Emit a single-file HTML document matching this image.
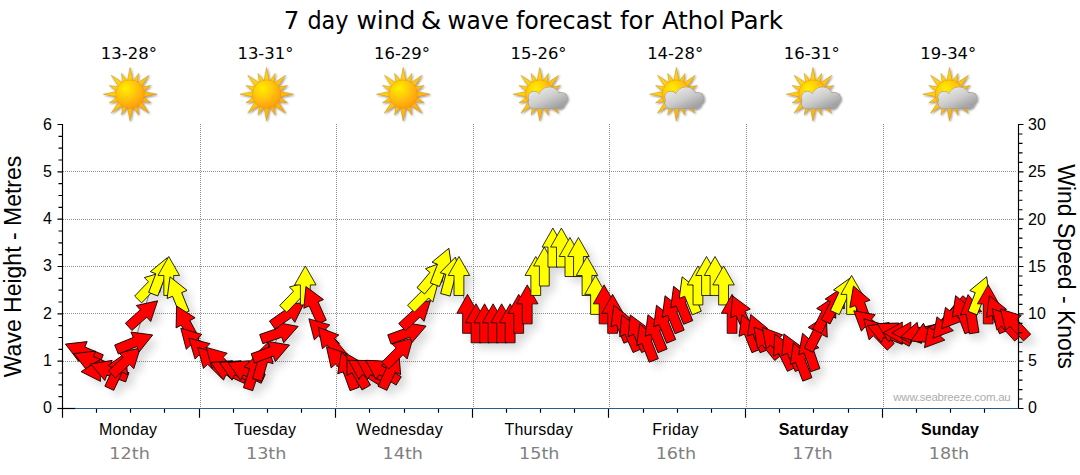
<!DOCTYPE html>
<html lang="en"><head><meta charset="utf-8"><title>7 day wind &amp; wave forecast for Athol Park</title>
<style>html,body{margin:0;padding:0;background:#fff}body{width:1080px;height:475px;overflow:hidden}svg{display:block}
text{font-family:"Liberation Sans",sans-serif;fill:#000}
.v{font-family:"DejaVu Sans Condensed","DejaVu Sans",sans-serif}
.w{font-family:"DejaVu Sans",sans-serif}
</style></head><body>
<svg width="1080" height="475" viewBox="0 0 1080 475">
<defs>
<radialGradient id="sg" cx="0.36" cy="0.3" r="0.75"><stop offset="0" stop-color="#fff000"/><stop offset="0.4" stop-color="#ffcc08"/><stop offset="1" stop-color="#ff9810"/></radialGradient>
<linearGradient id="rg" x1="0" y1="0" x2="1" y2="1"><stop offset="0" stop-color="#ffe418"/><stop offset="1" stop-color="#ffa010"/></linearGradient>
<linearGradient id="cg" gradientUnits="userSpaceOnUse" x1="2" y1="-7" x2="12" y2="15"><stop offset="0" stop-color="#e6e6e6"/><stop offset="0.5" stop-color="#cdcdcd"/><stop offset="1" stop-color="#a2a2a2"/></linearGradient>
<filter id="sh" x="-50%" y="-50%" width="220%" height="220%"><feGaussianBlur in="SourceAlpha" stdDeviation="4.5"/><feOffset dx="6" dy="6"/><feComponentTransfer><feFuncA type="linear" slope="0.15"/></feComponentTransfer></filter>
<filter id="ish" x="-30%" y="-30%" width="160%" height="160%"><feGaussianBlur in="SourceAlpha" stdDeviation="0.9"/><feOffset dx="0.8" dy="1.2" result="b"/><feComponentTransfer><feFuncA type="linear" slope="0.45"/></feComponentTransfer><feMerge><feMergeNode/><feMergeNode in="SourceGraphic"/></feMerge></filter>
<g id="sun"><path d="M-2.7 -13.5L0 -26.7L2.7 -13.5ZM3.04 -13.35L8.61 -20.79L7.29 -11.59ZM7.64 -11.46L18.88 -18.88L11.46 -7.64ZM11.59 -7.29L20.79 -8.61L13.35 -3.04ZM13.5 -2.7L26.7 -0L13.5 2.7ZM13.35 3.04L20.79 8.61L11.59 7.29ZM11.46 7.64L18.88 18.88L7.64 11.46ZM7.29 11.59L8.61 20.79L3.04 13.35ZM2.7 13.5L0 26.7L-2.7 13.5ZM-3.04 13.35L-8.61 20.79L-7.29 11.59ZM-7.64 11.46L-18.88 18.88L-11.46 7.64ZM-11.59 7.29L-20.79 8.61L-13.35 3.04ZM-13.5 2.7L-26.7 0L-13.5 -2.7ZM-13.35 -3.04L-20.79 -8.61L-11.59 -7.29ZM-11.46 -7.64L-18.88 -18.88L-7.64 -11.46ZM-7.29 -11.59L-8.61 -20.79L-3.04 -13.35Z" fill="url(#rg)" stroke="#c88800" stroke-width="0.45"/><circle r="14.3" fill="url(#sg)" stroke="#e89000" stroke-width="0.4"/></g>
<g id="cloud"><path d="M-11.3 3a5.8 5.8 0 1 1 11.6 0a5.8 5.8 0 1 1 -11.6 0ZM-1.0999999999999996 3.6a10.6 10.6 0 1 1 21.2 0a10.6 10.6 0 1 1 -21.2 0ZM15.5 4.5a6 6 0 1 1 12 0a6 6 0 1 1 -12 0ZM13.8 8.9a5.5 5.5 0 1 1 11.0 0a5.5 5.5 0 1 1 -11.0 0ZM-11.3 8.6a5.8 5.8 0 1 1 11.6 0a5.8 5.8 0 1 1 -11.6 0ZM-5.5 3H19.5V14.4H-5.5Z" fill="#9c9c9c" stroke="#9a9a9a" stroke-width="1"/><path d="M-11.3 3a5.8 5.8 0 1 1 11.6 0a5.8 5.8 0 1 1 -11.6 0ZM-1.0999999999999996 3.6a10.6 10.6 0 1 1 21.2 0a10.6 10.6 0 1 1 -21.2 0ZM15.5 4.5a6 6 0 1 1 12 0a6 6 0 1 1 -12 0ZM13.8 8.9a5.5 5.5 0 1 1 11.0 0a5.5 5.5 0 1 1 -11.0 0ZM-11.3 8.6a5.8 5.8 0 1 1 11.6 0a5.8 5.8 0 1 1 -11.6 0ZM-5.5 3H19.5V14.4H-5.5Z" fill="url(#cg)"/></g>
<path id="ar" d="M0 -19.5L10.75 -0.5L4.9 -0.5L4.9 19.5L-4.9 19.5L-4.9 -0.5L-10.75 -0.5Z"/>
</defs>
<path d="M63 361.17H1017M63 313.83H1017M63 266.5H1017M63 219.17H1017M63 171.83H1017M200.5 124V407.5M336.5 124V407.5M473.5 124V407.5M609.5 124V407.5M746.5 124V407.5M883.5 124V407.5" stroke="#8e8e8e" stroke-width="1" stroke-dasharray="1 1" fill="none" shape-rendering="crispEdges"/>
<polyline points="83.39,351.7 91.92,361.17 100.46,370.63 109,370.63 117.53,370.63 126.07,361.17 134.6,342.23 143.14,313.83 151.68,285.43 160.21,275.97 168.75,275.97 177.28,294.9 185.82,323.3 194.35,342.23 202.89,351.7 211.43,361.17 219.96,361.17 228.5,370.63 237.03,370.63 245.57,370.63 254.1,370.63 262.64,361.17 271.18,351.7 279.71,332.77 288.25,313.83 296.78,294.9 305.32,285.43 313.85,304.37 322.39,332.77 330.93,342.23 339.46,361.17 348,370.63 356.53,370.63 365.07,370.63 373.6,370.63 382.14,370.63 390.68,370.63 399.21,351.7 407.75,332.77 416.28,313.83 424.82,294.9 433.35,275.97 441.89,266.5 450.43,275.97 458.96,275.97 467.5,313.83 476.03,323.3 484.57,323.3 493.1,323.3 501.64,323.3 510.18,323.3 518.71,313.83 527.25,304.37 535.78,275.97 544.32,266.5 552.85,247.57 561.39,247.57 569.93,257.03 578.46,257.03 587,275.97 595.53,294.9 604.07,304.37 612.6,313.83 621.14,323.3 629.67,332.77 638.21,332.77 646.75,342.23 655.28,332.77 663.82,323.3 672.35,313.83 680.89,304.37 689.42,294.9 697.96,285.43 706.5,275.97 715.03,275.97 723.57,285.43 732.1,313.83 740.64,313.83 749.18,332.77 757.71,332.77 766.25,342.23 774.78,342.23 783.32,351.7 791.85,351.7 800.39,361.17 808.93,351.7 817.46,332.77 826,313.83 834.53,304.37 843.07,294.9 851.6,294.9 860.14,304.37 868.68,323.3 877.21,332.77 885.75,332.77 894.28,332.77 902.82,332.77 911.35,332.77 919.89,332.77 928.43,332.77 936.96,332.77 945.5,323.3 954.03,313.83 962.57,313.83 971.1,313.83 979.64,294.9 988.18,304.37 996.71,313.83 1005.25,323.3 1013.78,323.3" fill="none" stroke="#8c8c8c" stroke-width="1"/>
<g filter="url(#sh)"><use href="#ar" transform="translate(83.39 351.7) rotate(-67)" fill="#f00"/><use href="#ar" transform="translate(91.92 361.17) rotate(-67)" fill="#f00"/><use href="#ar" transform="translate(100.46 370.63) rotate(-93)" fill="#f00"/><use href="#ar" transform="translate(109 370.63) rotate(-70)" fill="#f00"/><use href="#ar" transform="translate(117.53 370.63) rotate(25)" fill="#f00"/><use href="#ar" transform="translate(126.07 361.17) rotate(47)" fill="#f00"/><use href="#ar" transform="translate(134.6 342.23) rotate(68)" fill="#f00"/><use href="#ar" transform="translate(143.14 313.83) rotate(48)" fill="#f00"/><use href="#ar" transform="translate(151.68 285.43) rotate(44)" fill="#ff0"/><use href="#ar" transform="translate(160.21 275.97) rotate(21)" fill="#ff0"/><use href="#ar" transform="translate(168.75 275.97) rotate(0)" fill="#ff0"/><use href="#ar" transform="translate(177.28 294.9) rotate(-22)" fill="#ff0"/><use href="#ar" transform="translate(185.82 323.3) rotate(-28)" fill="#f00"/><use href="#ar" transform="translate(194.35 342.23) rotate(-44)" fill="#f00"/><use href="#ar" transform="translate(202.89 351.7) rotate(-46)" fill="#f00"/><use href="#ar" transform="translate(211.43 361.17) rotate(-45)" fill="#f00"/><use href="#ar" transform="translate(219.96 361.17) rotate(-45)" fill="#f00"/><use href="#ar" transform="translate(228.5 370.63) rotate(-65)" fill="#f00"/><use href="#ar" transform="translate(237.03 370.63) rotate(-65)" fill="#f00"/><use href="#ar" transform="translate(245.57 370.63) rotate(-65)" fill="#f00"/><use href="#ar" transform="translate(254.1 370.63) rotate(18)" fill="#f00"/><use href="#ar" transform="translate(262.64 361.17) rotate(16)" fill="#f00"/><use href="#ar" transform="translate(271.18 351.7) rotate(70)" fill="#f00"/><use href="#ar" transform="translate(279.71 332.77) rotate(71)" fill="#f00"/><use href="#ar" transform="translate(288.25 313.83) rotate(55)" fill="#f00"/><use href="#ar" transform="translate(296.78 294.9) rotate(44)" fill="#ff0"/><use href="#ar" transform="translate(305.32 285.43) rotate(0)" fill="#ff0"/><use href="#ar" transform="translate(313.85 304.37) rotate(-24)" fill="#f00"/><use href="#ar" transform="translate(322.39 332.77) rotate(-44)" fill="#f00"/><use href="#ar" transform="translate(330.93 342.23) rotate(-40)" fill="#f00"/><use href="#ar" transform="translate(339.46 361.17) rotate(-42)" fill="#f00"/><use href="#ar" transform="translate(348 370.63) rotate(-20)" fill="#f00"/><use href="#ar" transform="translate(356.53 370.63) rotate(-30)" fill="#f00"/><use href="#ar" transform="translate(365.07 370.63) rotate(-58)" fill="#f00"/><use href="#ar" transform="translate(373.6 370.63) rotate(-58)" fill="#f00"/><use href="#ar" transform="translate(382.14 370.63) rotate(-58)" fill="#f00"/><use href="#ar" transform="translate(390.68 370.63) rotate(25)" fill="#f00"/><use href="#ar" transform="translate(399.21 351.7) rotate(45)" fill="#f00"/><use href="#ar" transform="translate(407.75 332.77) rotate(70)" fill="#f00"/><use href="#ar" transform="translate(416.28 313.83) rotate(47)" fill="#f00"/><use href="#ar" transform="translate(424.82 294.9) rotate(45)" fill="#ff0"/><use href="#ar" transform="translate(433.35 275.97) rotate(40)" fill="#ff0"/><use href="#ar" transform="translate(441.89 266.5) rotate(21)" fill="#ff0"/><use href="#ar" transform="translate(450.43 275.97) rotate(15)" fill="#ff0"/><use href="#ar" transform="translate(458.96 275.97) rotate(0)" fill="#ff0"/><use href="#ar" transform="translate(467.5 313.83) rotate(0)" fill="#f00"/><use href="#ar" transform="translate(476.03 323.3) rotate(0)" fill="#f00"/><use href="#ar" transform="translate(484.57 323.3) rotate(0)" fill="#f00"/><use href="#ar" transform="translate(493.1 323.3) rotate(0)" fill="#f00"/><use href="#ar" transform="translate(501.64 323.3) rotate(0)" fill="#f00"/><use href="#ar" transform="translate(510.18 323.3) rotate(0)" fill="#f00"/><use href="#ar" transform="translate(518.71 313.83) rotate(0)" fill="#f00"/><use href="#ar" transform="translate(527.25 304.37) rotate(0)" fill="#f00"/><use href="#ar" transform="translate(535.78 275.97) rotate(0)" fill="#ff0"/><use href="#ar" transform="translate(544.32 266.5) rotate(0)" fill="#ff0"/><use href="#ar" transform="translate(552.85 247.57) rotate(0)" fill="#ff0"/><use href="#ar" transform="translate(561.39 247.57) rotate(0)" fill="#ff0"/><use href="#ar" transform="translate(569.93 257.03) rotate(0)" fill="#ff0"/><use href="#ar" transform="translate(578.46 257.03) rotate(0)" fill="#ff0"/><use href="#ar" transform="translate(587 275.97) rotate(0)" fill="#ff0"/><use href="#ar" transform="translate(595.53 294.9) rotate(0)" fill="#ff0"/><use href="#ar" transform="translate(604.07 304.37) rotate(0)" fill="#f00"/><use href="#ar" transform="translate(612.6 313.83) rotate(0)" fill="#f00"/><use href="#ar" transform="translate(621.14 323.3) rotate(-22)" fill="#f00"/><use href="#ar" transform="translate(629.67 332.77) rotate(-24)" fill="#f00"/><use href="#ar" transform="translate(638.21 332.77) rotate(-24)" fill="#f00"/><use href="#ar" transform="translate(646.75 342.23) rotate(-21)" fill="#f00"/><use href="#ar" transform="translate(655.28 332.77) rotate(-22)" fill="#f00"/><use href="#ar" transform="translate(663.82 323.3) rotate(-22)" fill="#f00"/><use href="#ar" transform="translate(672.35 313.83) rotate(-22)" fill="#f00"/><use href="#ar" transform="translate(680.89 304.37) rotate(-22)" fill="#f00"/><use href="#ar" transform="translate(689.42 294.9) rotate(-22)" fill="#ff0"/><use href="#ar" transform="translate(697.96 285.43) rotate(0)" fill="#ff0"/><use href="#ar" transform="translate(706.5 275.97) rotate(0)" fill="#ff0"/><use href="#ar" transform="translate(715.03 275.97) rotate(0)" fill="#ff0"/><use href="#ar" transform="translate(723.57 285.43) rotate(0)" fill="#ff0"/><use href="#ar" transform="translate(732.1 313.83) rotate(0)" fill="#f00"/><use href="#ar" transform="translate(740.64 313.83) rotate(-24)" fill="#f00"/><use href="#ar" transform="translate(749.18 332.77) rotate(-22)" fill="#f00"/><use href="#ar" transform="translate(757.71 332.77) rotate(-21)" fill="#f00"/><use href="#ar" transform="translate(766.25 342.23) rotate(-39)" fill="#f00"/><use href="#ar" transform="translate(774.78 342.23) rotate(-40)" fill="#f00"/><use href="#ar" transform="translate(783.32 351.7) rotate(-26)" fill="#f00"/><use href="#ar" transform="translate(791.85 351.7) rotate(-24)" fill="#f00"/><use href="#ar" transform="translate(800.39 361.17) rotate(-21)" fill="#f00"/><use href="#ar" transform="translate(808.93 351.7) rotate(-19)" fill="#f00"/><use href="#ar" transform="translate(817.46 332.77) rotate(27)" fill="#f00"/><use href="#ar" transform="translate(826 313.83) rotate(27)" fill="#f00"/><use href="#ar" transform="translate(834.53 304.37) rotate(27)" fill="#f00"/><use href="#ar" transform="translate(843.07 294.9) rotate(25)" fill="#ff0"/><use href="#ar" transform="translate(851.6 294.9) rotate(0)" fill="#ff0"/><use href="#ar" transform="translate(860.14 304.37) rotate(-20)" fill="#f00"/><use href="#ar" transform="translate(868.68 323.3) rotate(-50)" fill="#f00"/><use href="#ar" transform="translate(877.21 332.77) rotate(-44)" fill="#f00"/><use href="#ar" transform="translate(885.75 332.77) rotate(-69)" fill="#f00"/><use href="#ar" transform="translate(894.28 332.77) rotate(-62)" fill="#f00"/><use href="#ar" transform="translate(902.82 332.77) rotate(270)" fill="#f00"/><use href="#ar" transform="translate(911.35 332.77) rotate(270)" fill="#f00"/><use href="#ar" transform="translate(919.89 332.77) rotate(258)" fill="#f00"/><use href="#ar" transform="translate(928.43 332.77) rotate(245)" fill="#f00"/><use href="#ar" transform="translate(936.96 332.77) rotate(220)" fill="#f00"/><use href="#ar" transform="translate(945.5 323.3) rotate(220)" fill="#f00"/><use href="#ar" transform="translate(954.03 313.83) rotate(220)" fill="#f00"/><use href="#ar" transform="translate(962.57 313.83) rotate(-21)" fill="#f00"/><use href="#ar" transform="translate(971.1 313.83) rotate(-9)" fill="#f00"/><use href="#ar" transform="translate(979.64 294.9) rotate(21)" fill="#ff0"/><use href="#ar" transform="translate(988.18 304.37) rotate(0)" fill="#f00"/><use href="#ar" transform="translate(996.71 313.83) rotate(-22)" fill="#f00"/><use href="#ar" transform="translate(1005.25 323.3) rotate(-42)" fill="#f00"/><use href="#ar" transform="translate(1013.78 323.3) rotate(-43)" fill="#f00"/></g>
<g stroke="#000" stroke-width="0.8" stroke-linejoin="miter"><use href="#ar" transform="translate(83.39 351.7) rotate(-67)" fill="#f00"/><use href="#ar" transform="translate(91.92 361.17) rotate(-67)" fill="#f00"/><use href="#ar" transform="translate(100.46 370.63) rotate(-93)" fill="#f00"/><use href="#ar" transform="translate(109 370.63) rotate(-70)" fill="#f00"/><use href="#ar" transform="translate(117.53 370.63) rotate(25)" fill="#f00"/><use href="#ar" transform="translate(126.07 361.17) rotate(47)" fill="#f00"/><use href="#ar" transform="translate(134.6 342.23) rotate(68)" fill="#f00"/><use href="#ar" transform="translate(143.14 313.83) rotate(48)" fill="#f00"/><use href="#ar" transform="translate(151.68 285.43) rotate(44)" fill="#ff0"/><use href="#ar" transform="translate(160.21 275.97) rotate(21)" fill="#ff0"/><use href="#ar" transform="translate(168.75 275.97) rotate(0)" fill="#ff0"/><use href="#ar" transform="translate(177.28 294.9) rotate(-22)" fill="#ff0"/><use href="#ar" transform="translate(185.82 323.3) rotate(-28)" fill="#f00"/><use href="#ar" transform="translate(194.35 342.23) rotate(-44)" fill="#f00"/><use href="#ar" transform="translate(202.89 351.7) rotate(-46)" fill="#f00"/><use href="#ar" transform="translate(211.43 361.17) rotate(-45)" fill="#f00"/><use href="#ar" transform="translate(219.96 361.17) rotate(-45)" fill="#f00"/><use href="#ar" transform="translate(228.5 370.63) rotate(-65)" fill="#f00"/><use href="#ar" transform="translate(237.03 370.63) rotate(-65)" fill="#f00"/><use href="#ar" transform="translate(245.57 370.63) rotate(-65)" fill="#f00"/><use href="#ar" transform="translate(254.1 370.63) rotate(18)" fill="#f00"/><use href="#ar" transform="translate(262.64 361.17) rotate(16)" fill="#f00"/><use href="#ar" transform="translate(271.18 351.7) rotate(70)" fill="#f00"/><use href="#ar" transform="translate(279.71 332.77) rotate(71)" fill="#f00"/><use href="#ar" transform="translate(288.25 313.83) rotate(55)" fill="#f00"/><use href="#ar" transform="translate(296.78 294.9) rotate(44)" fill="#ff0"/><use href="#ar" transform="translate(305.32 285.43) rotate(0)" fill="#ff0"/><use href="#ar" transform="translate(313.85 304.37) rotate(-24)" fill="#f00"/><use href="#ar" transform="translate(322.39 332.77) rotate(-44)" fill="#f00"/><use href="#ar" transform="translate(330.93 342.23) rotate(-40)" fill="#f00"/><use href="#ar" transform="translate(339.46 361.17) rotate(-42)" fill="#f00"/><use href="#ar" transform="translate(348 370.63) rotate(-20)" fill="#f00"/><use href="#ar" transform="translate(356.53 370.63) rotate(-30)" fill="#f00"/><use href="#ar" transform="translate(365.07 370.63) rotate(-58)" fill="#f00"/><use href="#ar" transform="translate(373.6 370.63) rotate(-58)" fill="#f00"/><use href="#ar" transform="translate(382.14 370.63) rotate(-58)" fill="#f00"/><use href="#ar" transform="translate(390.68 370.63) rotate(25)" fill="#f00"/><use href="#ar" transform="translate(399.21 351.7) rotate(45)" fill="#f00"/><use href="#ar" transform="translate(407.75 332.77) rotate(70)" fill="#f00"/><use href="#ar" transform="translate(416.28 313.83) rotate(47)" fill="#f00"/><use href="#ar" transform="translate(424.82 294.9) rotate(45)" fill="#ff0"/><use href="#ar" transform="translate(433.35 275.97) rotate(40)" fill="#ff0"/><use href="#ar" transform="translate(441.89 266.5) rotate(21)" fill="#ff0"/><use href="#ar" transform="translate(450.43 275.97) rotate(15)" fill="#ff0"/><use href="#ar" transform="translate(458.96 275.97) rotate(0)" fill="#ff0"/><use href="#ar" transform="translate(467.5 313.83) rotate(0)" fill="#f00"/><use href="#ar" transform="translate(476.03 323.3) rotate(0)" fill="#f00"/><use href="#ar" transform="translate(484.57 323.3) rotate(0)" fill="#f00"/><use href="#ar" transform="translate(493.1 323.3) rotate(0)" fill="#f00"/><use href="#ar" transform="translate(501.64 323.3) rotate(0)" fill="#f00"/><use href="#ar" transform="translate(510.18 323.3) rotate(0)" fill="#f00"/><use href="#ar" transform="translate(518.71 313.83) rotate(0)" fill="#f00"/><use href="#ar" transform="translate(527.25 304.37) rotate(0)" fill="#f00"/><use href="#ar" transform="translate(535.78 275.97) rotate(0)" fill="#ff0"/><use href="#ar" transform="translate(544.32 266.5) rotate(0)" fill="#ff0"/><use href="#ar" transform="translate(552.85 247.57) rotate(0)" fill="#ff0"/><use href="#ar" transform="translate(561.39 247.57) rotate(0)" fill="#ff0"/><use href="#ar" transform="translate(569.93 257.03) rotate(0)" fill="#ff0"/><use href="#ar" transform="translate(578.46 257.03) rotate(0)" fill="#ff0"/><use href="#ar" transform="translate(587 275.97) rotate(0)" fill="#ff0"/><use href="#ar" transform="translate(595.53 294.9) rotate(0)" fill="#ff0"/><use href="#ar" transform="translate(604.07 304.37) rotate(0)" fill="#f00"/><use href="#ar" transform="translate(612.6 313.83) rotate(0)" fill="#f00"/><use href="#ar" transform="translate(621.14 323.3) rotate(-22)" fill="#f00"/><use href="#ar" transform="translate(629.67 332.77) rotate(-24)" fill="#f00"/><use href="#ar" transform="translate(638.21 332.77) rotate(-24)" fill="#f00"/><use href="#ar" transform="translate(646.75 342.23) rotate(-21)" fill="#f00"/><use href="#ar" transform="translate(655.28 332.77) rotate(-22)" fill="#f00"/><use href="#ar" transform="translate(663.82 323.3) rotate(-22)" fill="#f00"/><use href="#ar" transform="translate(672.35 313.83) rotate(-22)" fill="#f00"/><use href="#ar" transform="translate(680.89 304.37) rotate(-22)" fill="#f00"/><use href="#ar" transform="translate(689.42 294.9) rotate(-22)" fill="#ff0"/><use href="#ar" transform="translate(697.96 285.43) rotate(0)" fill="#ff0"/><use href="#ar" transform="translate(706.5 275.97) rotate(0)" fill="#ff0"/><use href="#ar" transform="translate(715.03 275.97) rotate(0)" fill="#ff0"/><use href="#ar" transform="translate(723.57 285.43) rotate(0)" fill="#ff0"/><use href="#ar" transform="translate(732.1 313.83) rotate(0)" fill="#f00"/><use href="#ar" transform="translate(740.64 313.83) rotate(-24)" fill="#f00"/><use href="#ar" transform="translate(749.18 332.77) rotate(-22)" fill="#f00"/><use href="#ar" transform="translate(757.71 332.77) rotate(-21)" fill="#f00"/><use href="#ar" transform="translate(766.25 342.23) rotate(-39)" fill="#f00"/><use href="#ar" transform="translate(774.78 342.23) rotate(-40)" fill="#f00"/><use href="#ar" transform="translate(783.32 351.7) rotate(-26)" fill="#f00"/><use href="#ar" transform="translate(791.85 351.7) rotate(-24)" fill="#f00"/><use href="#ar" transform="translate(800.39 361.17) rotate(-21)" fill="#f00"/><use href="#ar" transform="translate(808.93 351.7) rotate(-19)" fill="#f00"/><use href="#ar" transform="translate(817.46 332.77) rotate(27)" fill="#f00"/><use href="#ar" transform="translate(826 313.83) rotate(27)" fill="#f00"/><use href="#ar" transform="translate(834.53 304.37) rotate(27)" fill="#f00"/><use href="#ar" transform="translate(843.07 294.9) rotate(25)" fill="#ff0"/><use href="#ar" transform="translate(851.6 294.9) rotate(0)" fill="#ff0"/><use href="#ar" transform="translate(860.14 304.37) rotate(-20)" fill="#f00"/><use href="#ar" transform="translate(868.68 323.3) rotate(-50)" fill="#f00"/><use href="#ar" transform="translate(877.21 332.77) rotate(-44)" fill="#f00"/><use href="#ar" transform="translate(885.75 332.77) rotate(-69)" fill="#f00"/><use href="#ar" transform="translate(894.28 332.77) rotate(-62)" fill="#f00"/><use href="#ar" transform="translate(902.82 332.77) rotate(270)" fill="#f00"/><use href="#ar" transform="translate(911.35 332.77) rotate(270)" fill="#f00"/><use href="#ar" transform="translate(919.89 332.77) rotate(258)" fill="#f00"/><use href="#ar" transform="translate(928.43 332.77) rotate(245)" fill="#f00"/><use href="#ar" transform="translate(936.96 332.77) rotate(220)" fill="#f00"/><use href="#ar" transform="translate(945.5 323.3) rotate(220)" fill="#f00"/><use href="#ar" transform="translate(954.03 313.83) rotate(220)" fill="#f00"/><use href="#ar" transform="translate(962.57 313.83) rotate(-21)" fill="#f00"/><use href="#ar" transform="translate(971.1 313.83) rotate(-9)" fill="#f00"/><use href="#ar" transform="translate(979.64 294.9) rotate(21)" fill="#ff0"/><use href="#ar" transform="translate(988.18 304.37) rotate(0)" fill="#f00"/><use href="#ar" transform="translate(996.71 313.83) rotate(-22)" fill="#f00"/><use href="#ar" transform="translate(1005.25 323.3) rotate(-42)" fill="#f00"/><use href="#ar" transform="translate(1013.78 323.3) rotate(-43)" fill="#f00"/></g>
<path d="M62.5 124V417.8M57.5 408.5H62.5M58.5 396.67H62.5M58.5 384.83H62.5M58.5 373H62.5M57.5 361.17H62.5M58.5 349.33H62.5M58.5 337.5H62.5M58.5 325.67H62.5M57.5 313.83H62.5M58.5 302H62.5M58.5 290.17H62.5M58.5 278.33H62.5M57.5 266.5H62.5M58.5 254.67H62.5M58.5 242.83H62.5M58.5 231H62.5M57.5 219.17H62.5M58.5 207.33H62.5M58.5 195.5H62.5M58.5 183.67H62.5M57.5 171.83H62.5M58.5 160H62.5M58.5 148.17H62.5M58.5 136.33H62.5M57.5 124.5H62.5M1018.5 124V409M1018.5 408.5H1023.5M1018.5 399.03H1022.5M1018.5 389.57H1022.5M1018.5 380.1H1022.5M1018.5 370.63H1022.5M1018.5 361.17H1023.5M1018.5 351.7H1022.5M1018.5 342.23H1022.5M1018.5 332.77H1022.5M1018.5 323.3H1022.5M1018.5 313.83H1023.5M1018.5 304.37H1022.5M1018.5 294.9H1022.5M1018.5 285.43H1022.5M1018.5 275.97H1022.5M1018.5 266.5H1023.5M1018.5 257.03H1022.5M1018.5 247.57H1022.5M1018.5 238.1H1022.5M1018.5 228.63H1022.5M1018.5 219.17H1023.5M1018.5 209.7H1022.5M1018.5 200.23H1022.5M1018.5 190.77H1022.5M1018.5 181.3H1022.5M1018.5 171.83H1023.5M1018.5 162.37H1022.5M1018.5 152.9H1022.5M1018.5 143.43H1022.5M1018.5 133.97H1022.5M1018.5 124.5H1023.5M96.5 408.5V412.8M130.5 408.5V412.8M164.5 408.5V412.8M199.5 408.5V417.8M233.5 408.5V412.8M267.5 408.5V412.8M301.5 408.5V412.8M335.5 408.5V417.8M369.5 408.5V412.8M404.5 408.5V412.8M438.5 408.5V412.8M472.5 408.5V417.8M506.5 408.5V412.8M540.5 408.5V412.8M574.5 408.5V412.8M608.5 408.5V417.8M643.5 408.5V412.8M677.5 408.5V412.8M711.5 408.5V412.8M745.5 408.5V417.8M779.5 408.5V412.8M813.5 408.5V412.8M848.5 408.5V412.8M882.5 408.5V417.8M916.5 408.5V412.8M950.5 408.5V412.8M984.5 408.5V412.8" stroke="#000" stroke-width="1.15" fill="none"/>
<path d="M57.5 408.5H76" stroke="#000" stroke-width="1.2"/>
<path d="M75 408.5H1018.5" stroke="#235f8c" stroke-width="1.2"/>
<text class="v" y="29" font-size="25"><tspan x="283.8" textLength="15.6" lengthAdjust="spacingAndGlyphs">7</tspan> <tspan x="307.4" textLength="41.1" lengthAdjust="spacingAndGlyphs">day</tspan> <tspan x="356.4" textLength="59.1" lengthAdjust="spacingAndGlyphs">wind</tspan> <tspan x="420.8" textLength="20.6" lengthAdjust="spacingAndGlyphs">&amp;</tspan> <tspan x="447.5" textLength="61.4" lengthAdjust="spacingAndGlyphs">wave</tspan> <tspan x="515.9" textLength="96" lengthAdjust="spacingAndGlyphs">forecast</tspan> <tspan x="619.9" textLength="33.6" lengthAdjust="spacingAndGlyphs">for</tspan> <tspan x="662" textLength="62.7" lengthAdjust="spacingAndGlyphs">Athol</tspan> <tspan x="729.8" textLength="53.2" lengthAdjust="spacingAndGlyphs">Park</tspan></text>
<text class="w" x="100.89" y="58.7" font-size="15.3" textLength="56" lengthAdjust="spacingAndGlyphs">13-28°</text>
<g transform="translate(130.09 94.2)" filter="url(#ish)"><use href="#sun"/></g>
<text x="128" y="435" font-size="16" text-anchor="middle" textLength="58.1" lengthAdjust="spacing">Monday</text>
<text class="w" x="109.39" y="458.7" font-size="16" textLength="40.4" lengthAdjust="spacingAndGlyphs" style="fill:#808080">12th</text>
<text class="w" x="237.46" y="58.7" font-size="15.3" textLength="56" lengthAdjust="spacingAndGlyphs">13-31°</text>
<g transform="translate(266.66 94.2)" filter="url(#ish)"><use href="#sun"/></g>
<text x="265" y="435" font-size="16" text-anchor="middle" textLength="61.8" lengthAdjust="spacing">Tuesday</text>
<text class="w" x="245.96" y="458.7" font-size="16" textLength="40.4" lengthAdjust="spacingAndGlyphs" style="fill:#808080">13th</text>
<text class="w" x="374.03" y="58.7" font-size="15.3" textLength="56" lengthAdjust="spacingAndGlyphs">16-29°</text>
<g transform="translate(403.23 94.2)" filter="url(#ish)"><use href="#sun"/></g>
<text x="399.5" y="435" font-size="16" text-anchor="middle" textLength="86.4" lengthAdjust="spacing">Wednesday</text>
<text class="w" x="382.53" y="458.7" font-size="16" textLength="40.4" lengthAdjust="spacingAndGlyphs" style="fill:#808080">14th</text>
<text class="w" x="510.6" y="58.7" font-size="15.3" textLength="56" lengthAdjust="spacingAndGlyphs">15-26°</text>
<g transform="translate(539.8 94.2)" filter="url(#ish)"><use href="#sun"/><use href="#cloud"/></g>
<text x="538.6" y="435" font-size="16" text-anchor="middle" textLength="68.3" lengthAdjust="spacing">Thursday</text>
<text class="w" x="519.1" y="458.7" font-size="16" textLength="40.4" lengthAdjust="spacingAndGlyphs" style="fill:#808080">15th</text>
<text class="w" x="647.17" y="58.7" font-size="15.3" textLength="56" lengthAdjust="spacingAndGlyphs">14-28°</text>
<g transform="translate(676.37 94.2)" filter="url(#ish)"><use href="#sun"/><use href="#cloud"/></g>
<text x="675.35" y="435" font-size="16" text-anchor="middle" textLength="46.2" lengthAdjust="spacing">Friday</text>
<text class="w" x="655.67" y="458.7" font-size="16" textLength="40.4" lengthAdjust="spacingAndGlyphs" style="fill:#808080">16th</text>
<text class="w" x="783.74" y="58.7" font-size="15.3" textLength="56" lengthAdjust="spacingAndGlyphs">16-31°</text>
<g transform="translate(812.94 94.2)" filter="url(#ish)"><use href="#sun"/><use href="#cloud"/></g>
<text x="813.6" y="435" font-size="16" text-anchor="middle" textLength="69.7" lengthAdjust="spacing" font-weight="bold">Saturday</text>
<text class="w" x="792.24" y="458.7" font-size="16" textLength="40.4" lengthAdjust="spacingAndGlyphs" style="fill:#808080">17th</text>
<text class="w" x="920.31" y="58.7" font-size="15.3" textLength="56" lengthAdjust="spacingAndGlyphs">19-34°</text>
<g transform="translate(949.51 94.2)" filter="url(#ish)"><use href="#sun"/><use href="#cloud"/></g>
<text x="949.9" y="435" font-size="16" text-anchor="middle" textLength="57.8" lengthAdjust="spacing" font-weight="bold">Sunday</text>
<text class="w" x="928.81" y="458.7" font-size="16" textLength="40.4" lengthAdjust="spacingAndGlyphs" style="fill:#808080">18th</text>
<text x="52" y="413" font-size="16" text-anchor="end">0</text>
<text x="1028" y="413.4" font-size="16">0</text>
<text x="52" y="365.81" font-size="16" text-anchor="end">1</text>
<text x="1028" y="366.22" font-size="16">5</text>
<text x="52" y="318.61" font-size="16" text-anchor="end">2</text>
<text x="1028" y="319.03" font-size="16">10</text>
<text x="52" y="271.42" font-size="16" text-anchor="end">3</text>
<text x="1028" y="271.85" font-size="16">15</text>
<text x="52" y="224.23" font-size="16" text-anchor="end">4</text>
<text x="1028" y="224.67" font-size="16">20</text>
<text x="52" y="177.03" font-size="16" text-anchor="end">5</text>
<text x="1028" y="177.48" font-size="16">25</text>
<text x="52" y="129.84" font-size="16" text-anchor="end">6</text>
<text x="1028" y="130.3" font-size="16">30</text>
<text transform="translate(20.7 266.5) rotate(-90)" font-size="23" text-anchor="middle">Wave Height - Metres</text>
<text transform="translate(1058 266.5) rotate(90)" font-size="23" text-anchor="middle">Wind Speed - Knots</text>
<text x="952" y="401" font-size="11.5" text-anchor="middle" textLength="117.5" style="fill:#adadad">www.seabreeze.com.au</text>
</svg></body></html>
